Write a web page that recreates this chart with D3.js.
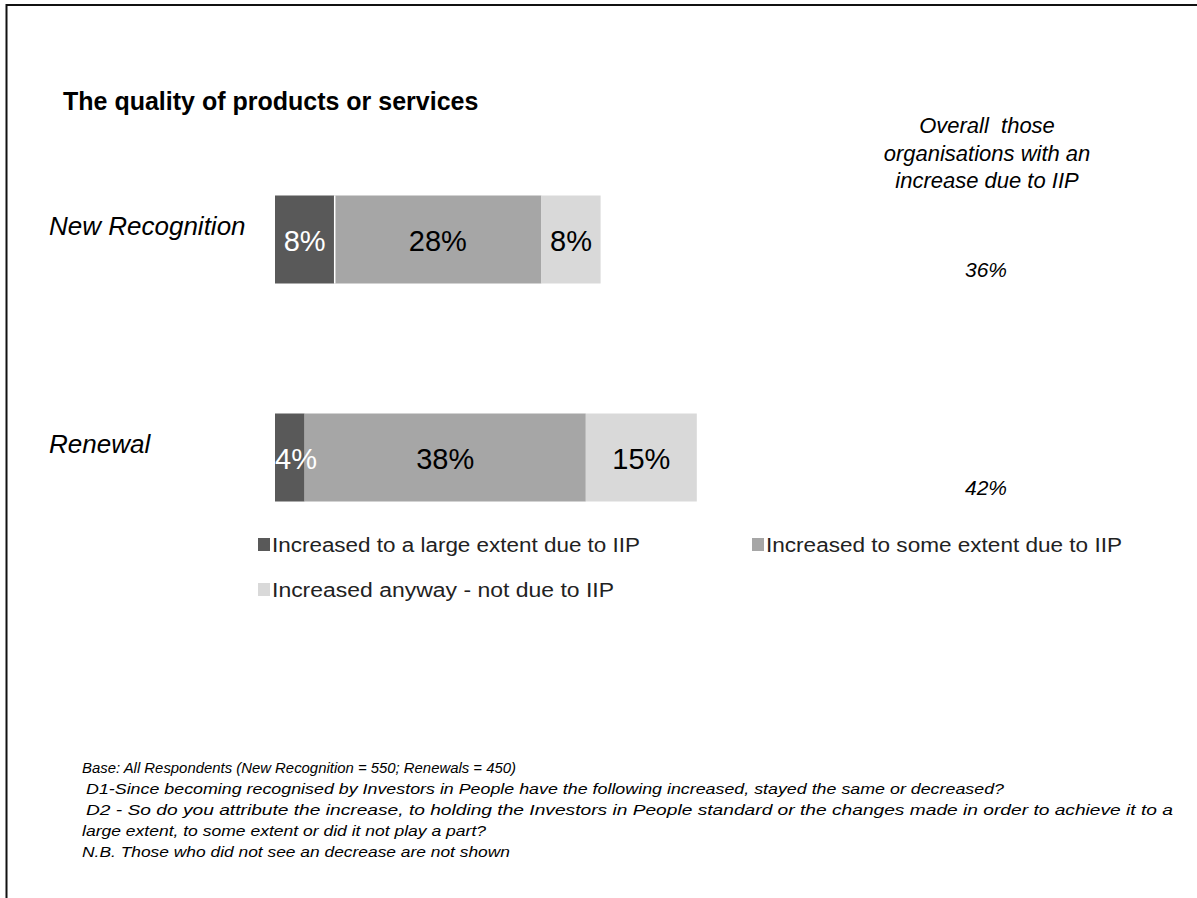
<!DOCTYPE html>
<html>
<head>
<meta charset="utf-8">
<script src="https://cdn.jsdelivr.net/npm/d3@7"></script>
<style>
  body { margin: 0; background: #fff; }
  text { font-family: "Liberation Sans", Arial, sans-serif; }
</style>
</head>
<body>
<div id="chart"></div>
<script>
const categories = ["New Recognition", "Renewal"];
const seriesNames = [
    "Increased to a large extent due to IIP",
    "Increased to some extent due to IIP",
    "Increased anyway - not due to IIP"
];
const largeExtent = [8, 4];
const someExtent = [28, 38];
const anyway = [8, 15];
const overallDueToIIP = [36, 42];
const overallHeader = ["Overall  those", "organisations with an", "increase due to IIP"];
const footnotes = [
    "Base: All Respondents (New Recognition = 550; Renewals = 450)",
    "D1-Since becoming recognised by Investors in People have the following increased, stayed the same or decreased?",
    "D2 - So do you attribute the increase, to holding the Investors in People standard or the changes made in order to achieve it to a",
    "large extent, to some extent or did it not play a part?",
    "N.B. Those who did not see an decrease are not shown"
];

const width = 1197, height = 898;
const colors = ["#595959", "#a6a6a6", "#d9d9d9"];
const labelColors = ["#fff", "#000", "#000"];

const svg = d3.select("#chart").append("svg")
    .attr("width", width)
    .attr("height", height);

// Frame (top and left edges only)
svg.append("line").attr("x1", 6).attr("x2", width).attr("y1", 5).attr("y2", 5)
    .attr("stroke", "#111").attr("stroke-width", 2);
svg.append("line").attr("x1", 6.5).attr("x2", 6.5).attr("y1", 4).attr("y2", height)
    .attr("stroke", "#111").attr("stroke-width", 2);

// Title
svg.append("text")
    .attr("x", 63).attr("y", 110)
    .style("font-size", "25px").style("font-weight", "bold")
    .text("The quality of products or services");

// Scales
const x = d3.scaleLinear().domain([0, 100]).range([275, 1015]);
const y = d3.scalePoint().domain(categories).range([239.5, 457.5]);
const barH = 88;

// Stack the series
const rows = categories.map((c, i) => ({
    category: c,
    values: [largeExtent[i], someExtent[i], anyway[i]]
}));
const stacked = d3.stack().keys([0, 1, 2]).value((d, k) => d.values[k])(rows);
const segments = stacked.flatMap(s => s.map(p => ({ key: s.key, x0: p[0], x1: p[1], category: p.data.category })));

// Bars
svg.append("g").selectAll("rect")
    .data(segments)
    .enter()
    .append("rect")
    .attr("x", d => x(d.x0))
    .attr("width", d => x(d.x1) - x(d.x0))
    .attr("y", d => y(d.category) - barH / 2)
    .attr("height", barH)
    .attr("fill", d => colors[d.key]);

// thin white gap after the dark segment on the first bar
svg.append("line")
    .attr("x1", x(largeExtent[0]) + 0.5).attr("x2", x(largeExtent[0]) + 0.5)
    .attr("y1", y(categories[0]) - barH / 2).attr("y2", y(categories[0]) + barH / 2)
    .attr("stroke", "#fff").attr("stroke-width", 1.5);

// Value labels on top of all bars
svg.append("g").selectAll("text")
    .data(segments)
    .enter()
    .append("text")
    .attr("y", d => y(d.category) + 11)
    .attr("text-anchor", "start")
    .style("font-size", "29px")
    .attr("fill", d => labelColors[d.key])
    .text(d => (d.x1 - d.x0) + "%")
    .attr("x", function (d) {
        const w = this.getComputedTextLength();
        const left = x(d.x0), right = x(d.x1);
        return Math.max(left, (left + right) / 2 - w / 2);
    });

// Category labels
svg.selectAll(".cat")
    .data(categories)
    .enter()
    .append("text")
    .attr("class", "cat")
    .attr("x", 49)
    .attr("y", d => y(d) - 5)
    .style("font-size", "26px").style("font-style", "italic")
    .text(d => d);

// Overall column
svg.selectAll(".hdr")
    .data(overallHeader)
    .enter()
    .append("text")
    .attr("class", "hdr")
    .attr("x", 987)
    .attr("y", (d, i) => 133 + i * 27.5)
    .attr("text-anchor", "middle")
    .style("font-size", "22px").style("font-style", "italic")
    .style("white-space", "pre")
    .text(d => d);

svg.selectAll(".overall")
    .data(overallDueToIIP)
    .enter()
    .append("text")
    .attr("class", "overall")
    .attr("x", 986)
    .attr("y", (d, i) => y(categories[i]) + 37)
    .attr("text-anchor", "middle")
    .style("font-size", "21px").style("font-style", "italic")
    .text(d => d + "%");

// Legend
const legendPos = [[258, 545], [752, 545], [258, 590]];
const legendLen = [368, 356, 342];
const legend = svg.selectAll(".legend")
    .data(seriesNames)
    .enter()
    .append("g")
    .attr("class", "legend")
    .attr("transform", (d, i) => `translate(${legendPos[i][0]},${legendPos[i][1]})`);

legend.append("rect")
    .attr("x", 0).attr("y", -7)
    .attr("width", 12).attr("height", 13)
    .attr("fill", (d, i) => colors[i]);

legend.append("text")
    .attr("x", 14).attr("y", 7)
    .style("font-size", "20px")
    .attr("fill", "#222")
    .attr("textLength", (d, i) => legendLen[i])
    .attr("lengthAdjust", "spacingAndGlyphs")
    .text(d => d);

// Footnotes
const noteX = [82, 86, 86, 82, 82];
const noteLen = [434, 918, 1087, 404, 428];
svg.selectAll(".note")
    .data(footnotes)
    .enter()
    .append("text")
    .attr("class", "note")
    .attr("x", (d, i) => noteX[i])
    .attr("y", (d, i) => 773 + i * 21)
    .style("font-size", "15px").style("font-style", "italic")
    .attr("textLength", (d, i) => noteLen[i])
    .attr("lengthAdjust", "spacingAndGlyphs")
    .text(d => d);
</script>
</body>
</html>
